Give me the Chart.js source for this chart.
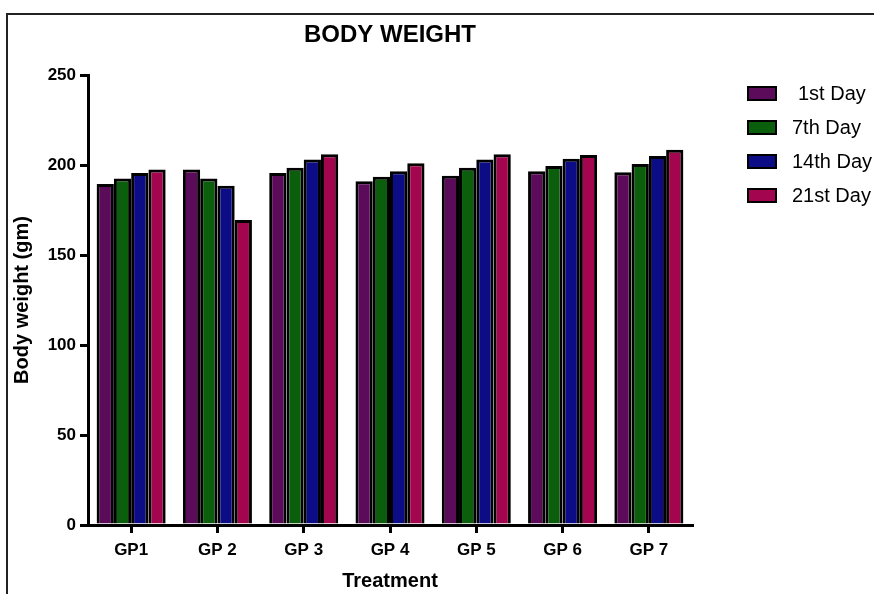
<!DOCTYPE html>
<html>
<head>
<meta charset="utf-8">
<script src="https://cdn.jsdelivr.net/npm/chart.js@4.4.1/dist/chart.umd.min.js"></script>
<style>
  html, body { margin: 0; padding: 0; background: #fff; }
  canvas { display: block; }
</style>
</head>
<body>
<canvas id="chart" width="874" height="594"></canvas>
<script>
// Data
const categories = ["GP1", "GP 2", "GP 3", "GP 4", "GP 5", "GP 6", "GP 7"];
const seriesNames = ["1st Day", "7th Day", "14th Day", "21st Day"];
const day1 = [189.5, 197.5, 195.5, 191, 194, 196.5, 196];
const day7 = [192.5, 192.5, 198.5, 193.5, 198.5, 199.5, 200.5];
const day14 = [195.5, 188.5, 203, 196.5, 203, 203.5, 205];
const day21 = [197.5, 169.5, 206, 201, 206, 205.5, 208.5];
const yTicks = [0, 50, 100, 150, 200, 250];

const colors = ["#5c0b5a", "#0b5e0b", "#0c0c86", "#a3064f"];
const font = "'Liberation Sans', Arial, sans-serif";

// frame, title and legend drawn on top
const decorPlugin = {
    id: "decor",
    afterDraw(chart) {
        const ctx = chart.ctx;
        const area = chart.chartArea;
        ctx.save();
        // frame lines
        ctx.strokeStyle = "#222";
        ctx.lineWidth = 2;
        ctx.beginPath();
        ctx.moveTo(7, 594);
        ctx.lineTo(7, 14);
        ctx.lineTo(874, 14);
        ctx.stroke();

        // title
        ctx.fillStyle = "#000";
        ctx.font = "bold 24px " + font;
        ctx.textAlign = "center";
        ctx.textBaseline = "middle";
        ctx.fillText("BODY WEIGHT", (area.left + area.right) / 2, 35);

        // legend
        ctx.font = "20px " + font;
        ctx.textAlign = "left";
        chart.data.datasets.forEach((ds, i) => {
            const y = 93 + i * 34;
            ctx.fillStyle = ds.backgroundColor;
            ctx.fillRect(748, y - 6, 28, 13);
            ctx.strokeStyle = "#000";
            ctx.lineWidth = 2;
            ctx.strokeRect(748, y - 6, 28, 13);
            ctx.fillStyle = "#000";
            ctx.fillText(ds.label, i === 0 ? 798 : 792, y + 1);
        });
        ctx.restore();
    }
};

const ctx = document.getElementById("chart").getContext("2d");

new Chart(ctx, {
    type: "bar",
    data: {
        labels: categories,
        datasets: [day1, day7, day14, day21].map((values, i) => ({
            label: seriesNames[i],
            data: values,
            backgroundColor: colors[i],
            borderColor: "#000",
            borderWidth: 3,
            categoryPercentage: 0.8,
            barPercentage: 1.0
        }))
    },
    options: {
        responsive: false,
        animation: false,
        layout: {
            padding: { top: 75, right: 182, left: 0, bottom: 0 }
        },
        plugins: {
            legend: { display: false },
            title: { display: false },
            tooltip: { enabled: false }
        },
        scales: {
            x: {
                afterFit: (scale) => { scale.height = 69; },
                ticks: {
                    color: "#000",
                    padding: 7,
                    font: { family: font, size: 17, weight: "bold" }
                },
                grid: {
                    offset: false,
                    drawOnChartArea: false,
                    drawTicks: true,
                    tickLength: 8,
                    color: "#000",
                    lineWidth: 3
                },
                border: { display: true, color: "#000", width: 3 },
                title: {
                    display: true,
                    text: "Treatment",
                    color: "#000",
                    padding: { top: 0, bottom: 1 },
                    font: { family: font, size: 20, weight: "bold" }
                }
            },
            y: {
                min: 0,
                max: 250,
                afterFit: (scale) => { scale.width = 88; },
                afterBuildTicks: (scale) => {
                    scale.ticks = yTicks.map(v => ({ value: v }));
                },
                ticks: {
                    color: "#000",
                    padding: 4,
                    font: { family: font, size: 17, weight: "bold" }
                },
                grid: {
                    drawOnChartArea: false,
                    drawTicks: true,
                    tickLength: 8,
                    color: "#000",
                    lineWidth: 3
                },
                border: { display: true, color: "#000", width: 3 },
                title: {
                    display: true,
                    text: "Body weight (gm)",
                    color: "#000",
                    padding: { top: 10, bottom: 0 },
                    font: { family: font, size: 20, weight: "bold" }
                }
            }
        }
    },
    plugins: [decorPlugin]
});
</script>
</body>
</html>
